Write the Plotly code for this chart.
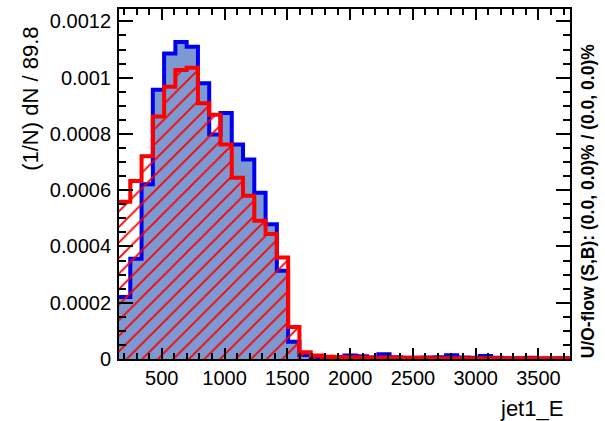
import plotly.graph_objects as go

# ---------------- data ----------------
bin_width = 89.8
x_min = 159.0
n_bins = 40

signal = [0.000220, 0.000356, 0.000621, 0.000957, 0.001086, 0.001127, 0.001110, 0.000980,
          0.000798, 0.000874, 0.000762, 0.000709, 0.000591, 0.000479, 0.000314, 0.000061,
          0.000014, 0.000004, 0.000005, 0.000006, 0.000012, 0.000010, 0.000005, 0.000017,
          0.000006, 0.000004, 0.000004, 0.000005, 0.000006, 0.000013, 0.000005, 0.000004,
          0.000011, 0.000004, 0.000003, 0.000003, 0.000004, 0.000002, 0.000002, 0.000003]

background = [0.000559, 0.000633, 0.000721, 0.000862, 0.000968, 0.001027, 0.001035, 0.000909,
              0.000868, 0.000762, 0.000644, 0.000580, 0.000491, 0.000444, 0.000361, 0.000114,
              0.000024, 0.000012, 0.000008, 0.000007, 0.000006, 0.000006, 0.000005, 0.000005,
              0.000004, 0.000004, 0.000004, 0.000003, 0.000003, 0.000003, 0.000003, 0.000003,
              0.000003, 0.000003, 0.000003, 0.000003, 0.000003, 0.000003, 0.000003, 0.000003]

x_tick_vals = [500, 1000, 1500, 2000, 2500, 3000, 3500]
x_tick_text = ["500", "1000", "1500", "2000", "2500", "3000", "3500"]
y_tick_vals = [0, 0.0002, 0.0004, 0.0006, 0.0008, 0.001, 0.0012]
y_tick_text = ["0", "0.0002", "0.0004", "0.0006", "0.0008", "0.001", "0.0012"]

x_title = "jet1_E"
y_title = "(1/N) dN / 89.8"
overflow_text = "U/O-flow (S,B): (0.0, 0.0)% / (0.0, 0.0)%"

# ---------------- figure ----------------
edges = [x_min + i * bin_width for i in range(n_bins + 1)]
x_max = edges[-1]

FONT = "Liberation Sans, Arial, Helvetica, sans-serif"

fig = go.Figure()
fig.add_trace(go.Scatter(
    x=edges, y=signal + [signal[-1]], mode="lines", line_shape="hv",
    line=dict(color="#0000ee", width=4),
    fill="tozeroy", fillcolor="#7d99d1", showlegend=False, hoverinfo="skip"))
fig.add_trace(go.Scatter(
    x=edges, y=background + [background[-1]], mode="lines", line_shape="hv",
    line=dict(color="#ff0000", width=4),
    fill="tozeroy", fillcolor="rgba(0,0,0,0)",
    fillpattern=dict(shape="/", fgcolor="#ff0000", fgopacity=1, bgcolor="rgba(0,0,0,0)",
                     size=11, solidity=0.17, fillmode="overlay"),
    showlegend=False, hoverinfo="skip"))

axis_common = dict(showline=True, linecolor="black", linewidth=2, mirror="ticks",
                   ticks="inside", tickcolor="black", tickwidth=2,
                   showgrid=False, zeroline=False,
                   tickfont=dict(family=FONT, size=20, color="black"))

fig.update_xaxes(range=[x_min, x_max], tickmode="array", tickvals=x_tick_vals,
                 ticktext=x_tick_text, ticklen=11,
                 minor=dict(tick0=0, dtick=100, ticks="inside", ticklen=6,
                            tickwidth=2, tickcolor="black", showgrid=False),
                 **axis_common)
fig.update_yaxes(range=[0, 0.001244], tickmode="array", tickvals=y_tick_vals,
                 ticktext=y_tick_text, ticklen=14, ticklabelstandoff=2,
                 minor=dict(tick0=0, dtick=0.00005, ticks="inside", ticklen=7,
                            tickwidth=2, tickcolor="black", showgrid=False),
                 **axis_common)

fig.add_annotation(text=y_title, textangle=-90, xref="paper", yref="paper",
                   x=-0.195, y=0.955, xanchor="center", yanchor="top", showarrow=False,
                   font=dict(family=FONT, size=22, color="black"))
fig.add_annotation(text=x_title, xref="paper", yref="paper",
                   x=0.989, y=-0.142, xanchor="right", yanchor="middle", showarrow=False,
                   font=dict(family=FONT, size=22, color="black"))
fig.add_annotation(text="<b>" + overflow_text + "</b>", textangle=-90, xref="paper",
                   yref="paper", x=1.04, y=-0.005, xanchor="center", yanchor="bottom",
                   showarrow=False, font=dict(family=FONT, size=17.5, color="black"))

fig.update_layout(width=605, height=421, margin=dict(l=119, r=35, t=7, b=62),
                  paper_bgcolor="white", plot_bgcolor="white")

fig.write_html("out.html")
